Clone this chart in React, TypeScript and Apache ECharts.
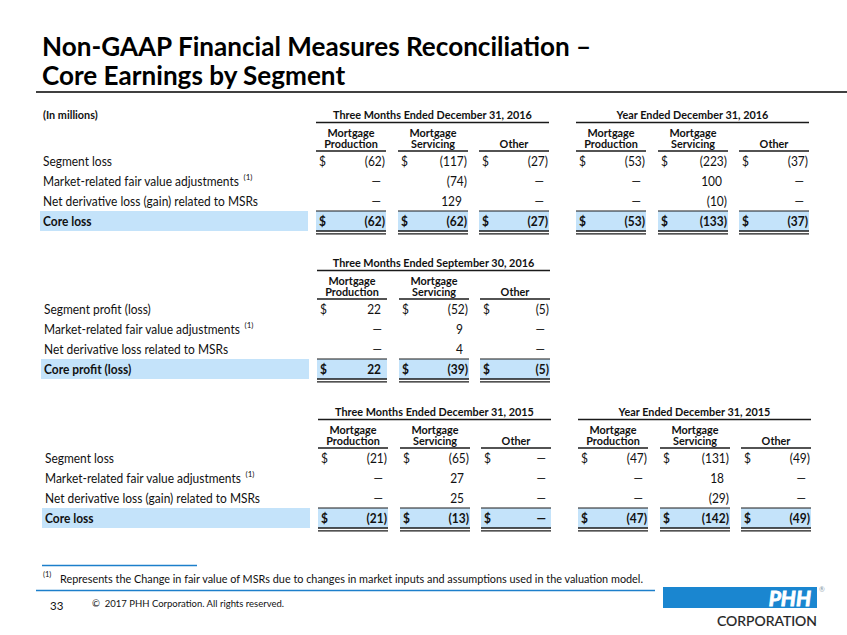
import React, { useEffect, useRef } from "react";
import * as echarts from "echarts";

const FONT = "Lato, 'Open Sans', sans-serif";

const titleLines = ["Non-GAAP Financial Measures Reconciliation –", "Core Earnings by Segment"];
const unitsLabel = "(In millions)";
const segmentHeaders = [["Mortgage", "Production"], ["Mortgage", "Servicing"], ["Other"]];

const lossRowLabels = [
  "Segment loss",
  "Market-related fair value adjustments",
  "Net derivative loss (gain) related to MSRs",
  "Core loss",
];
const q3RowLabels = [
  "Segment profit (loss)",
  "Market-related fair value adjustments",
  "Net derivative loss related to MSRs",
  "Core profit (loss)",
];
const footnoteMarker = "(1)";
const footnoteRow = 1;

const periodsTable1 = ["Three Months Ended December 31, 2016", "Year Ended December 31, 2016"];
const periodsTable2 = ["Three Months Ended September 30, 2016"];
const periodsTable3 = ["Three Months Ended December 31, 2015", "Year Ended December 31, 2015"];

// rows: segment result, market-related adj., net derivative, core result
// columns: Mortgage Production, Mortgage Servicing, Other ; null = "—"
const q4_2016 = [[-62, -117, -27], [null, -74, null], [null, 129, null], [-62, -62, -27]];
const fy_2016 = [[-53, -223, -37], [null, 100, null], [null, -10, null], [-53, -133, -37]];
const q3_2016 = [[22, -52, -5], [null, 9, null], [null, 4, null], [22, -39, -5]];
const q4_2015 = [[-21, -65, null], [null, 27, null], [null, 25, null], [-21, -13, null]];
const fy_2015 = [[-47, -131, -49], [null, 18, null], [null, -29, null], [-47, -142, -49]];

const footnoteText =
  "Represents the Change in fair value of MSRs due to changes in market inputs and assumptions used in the valuation model.";
const pageNumber = "33";
const copyrightText = "©  2017 PHH Corporation. All rights reserved.";
const logoText = "PHH";
const logoSubText = "CORPORATION";

const BAND = "#C4E3FA";
const INK = "#111111";
const BLUE = "#1C7FCB";

function fmt(v: number | null): string {
  if (v === null) return "—";
  return v < 0 ? `(${Math.abs(v)})` : `${v}`;
}

let measureCtx: CanvasRenderingContext2D | null = null;
function measure(text: string, font: string): number {
  if (!measureCtx) measureCtx = document.createElement("canvas").getContext("2d");
  measureCtx!.font = font;
  return measureCtx!.measureText(text).width;
}

function txt(text: string, x: number, y: number, size: number, opts: any = {}) {
  const weight = opts.bold ? "bold " : "";
  const italic = opts.italic ? "italic " : "";
  const style: any = {
    text,
    font: `${italic}${weight}${size}px ${FONT}`,
    fill: opts.fill || INK,
    textAlign: opts.align || "left",
    textVerticalAlign: "middle",
  };
  if (opts.stroke) {
    style.stroke = opts.stroke;
    style.lineWidth = opts.strokeWidth || 0.6;
  }
  return {
    type: "text",
    x,
    y,
    scaleX: opts.sx || 1,
    silent: true,
    style,
  };
}

function line(x1: number, y1: number, x2: number, y2: number, w: number, color = "#1a1a1a") {
  return { type: "line", silent: true, shape: { x1, y1, x2, y2 }, style: { stroke: color, lineWidth: w } };
}

function rect(x: number, y: number, width: number, height: number, fill: string) {
  return { type: "rect", silent: true, shape: { x, y, width, height }, style: { fill } };
}

const GROUP_STARTS = [[316, 398, 479], [576, 658, 739]];
const COL_W = 70;
const SX = 0.92;
const LABEL_SIZE = 13;
const HEAD_SIZE = 11.8;

function buildTable(
  row0: number,
  dx: number,
  labels: string[],
  periods: string[],
  groups: (number | null)[][][],
  showUnits: boolean
) {
  const els: any[] = [];
  const bandTop = row0 + 49.5;
  const bandBottom = row0 + 69.5;
  els.push(rect(40 + dx, bandTop, 268, bandBottom - bandTop, BAND));
  if (showUnits) els.push(txt(unitsLabel, 43 + dx, row0 - 47.5, HEAD_SIZE, { bold: true, sx: SX }));
  labels.forEach((lab, i) => {
    const y = row0 + 20 * i;
    const bold = i === labels.length - 1;
    els.push(txt(lab, 43 + dx, y, LABEL_SIZE, { bold, sx: SX }));
    if (i === footnoteRow) {
      const w = measure(lab, `${LABEL_SIZE}px ${FONT}`) * SX;
      els.push(txt(footnoteMarker, 43 + dx + w + 4, y - 5, 8));
    }
  });
  groups.forEach((data, g) => {
    const starts = GROUP_STARTS[g].map((s) => s + dx);
    const gx1 = starts[0];
    const gx2 = starts[2] + COL_W;
    els.push(txt(periods[g], (gx1 + gx2) / 2, row0 - 47.5, HEAD_SIZE, { bold: true, align: "center", sx: SX }));
    els.push(line(gx1, row0 - 39, gx2, row0 - 39, 1.6));
    starts.forEach((sx, c) => {
      const ex = sx + COL_W;
      const cx = (sx + ex) / 2;
      const hdr = segmentHeaders[c];
      if (hdr.length === 2) {
        els.push(txt(hdr[0], cx, row0 - 29.5, HEAD_SIZE, { bold: true, align: "center", sx: SX }));
        els.push(txt(hdr[1], cx, row0 - 18, HEAD_SIZE, { bold: true, align: "center", sx: SX }));
      } else {
        els.push(txt(hdr[0], cx, row0 - 18.5, HEAD_SIZE, { bold: true, align: "center", sx: SX }));
      }
      els.push(line(sx, row0 - 10.5, ex, row0 - 10.5, 1.6));
      els.push(rect(sx, bandTop, COL_W, bandBottom - bandTop, BAND));
      els.push(line(sx, bandTop, ex, bandTop, 1));
      els.push(line(sx, bandBottom, ex, bandBottom, 1.6));
      els.push(line(sx, bandBottom + 2.8, ex, bandBottom + 2.8, 1.2));
      data.forEach((row, r) => {
        const y = row0 + 20 * r;
        const bold = r === data.length - 1;
        const v = row[c];
        const s = fmt(v);
        if (r === 0 || r === data.length - 1) els.push(txt("$", sx + 3, y, LABEL_SIZE, { bold, sx: SX }));
        let rx = ex - 1;
        if (v === null) rx = ex - 5;
        else if (v >= 0) rx = ex - 6;
        els.push(txt(s, rx, y, LABEL_SIZE, { bold, align: "right", sx: SX }));
      });
    });
  });
  return els;
}

export default function App() {
  const ref = useRef<HTMLDivElement>(null);
  useEffect(() => {
    document.body.style.margin = "0";
    if (!ref.current) return;
    const chart = echarts.init(ref.current, null, { renderer: "svg" });
    const els: any[] = [];
    els.push(rect(0, 0, 847, 635, "#ffffff"));
    els.push(txt(titleLines[0], 42, 46, 26.5, { bold: true, fill: "#000", sx: 0.985 }));
    els.push(txt(titleLines[1], 42, 75, 26.5, { bold: true, fill: "#000", sx: 0.985 }));
    els.push(line(36, 92, 847, 92, 1.6, "#000"));

    els.push(...buildTable(161.5, 0, lossRowLabels, periodsTable1, [q4_2016, fy_2016], true));
    els.push(...buildTable(309.5, 1, q3RowLabels, periodsTable2, [q3_2016], false));
    els.push(...buildTable(458.5, 2, lossRowLabels, periodsTable3, [q4_2015, fy_2015], false));

    els.push(line(42, 565.5, 197, 565.5, 1.5, BLUE));
    els.push(txt(footnoteMarker, 43, 574, 7.5));
    els.push(txt(footnoteText, 60, 578, 11.5, { sx: 0.945 }));
    els.push(line(36, 590.5, 655, 590.5, 1.5, BLUE));
    els.push(txt(pageNumber, 50, 605, 11.5));
    els.push(txt(copyrightText, 92, 603, 9.5));

    els.push(rect(663, 587, 154, 21, "#1A86D0"));
    els.push(
      txt(logoText, 811, 597.5, 21, {
        bold: true,
        italic: true,
        fill: "#ffffff",
        align: "right",
        stroke: "#ffffff",
        strokeWidth: 0.9,
      })
    );
    els.push(txt("®", 822, 589, 7, { fill: "#8a9aa8", align: "center" }));
    els.push(txt(logoSubText, 817, 620, 14, { fill: "#222222", align: "right", stroke: "#222222", strokeWidth: 0.2 }));

    chart.setOption({
      animation: false,
      backgroundColor: "#ffffff",
      graphic: { elements: els },
    });
    return () => chart.dispose();
  }, []);
  return <div ref={ref} style={{ width: 847, height: 635 }} />;
}
